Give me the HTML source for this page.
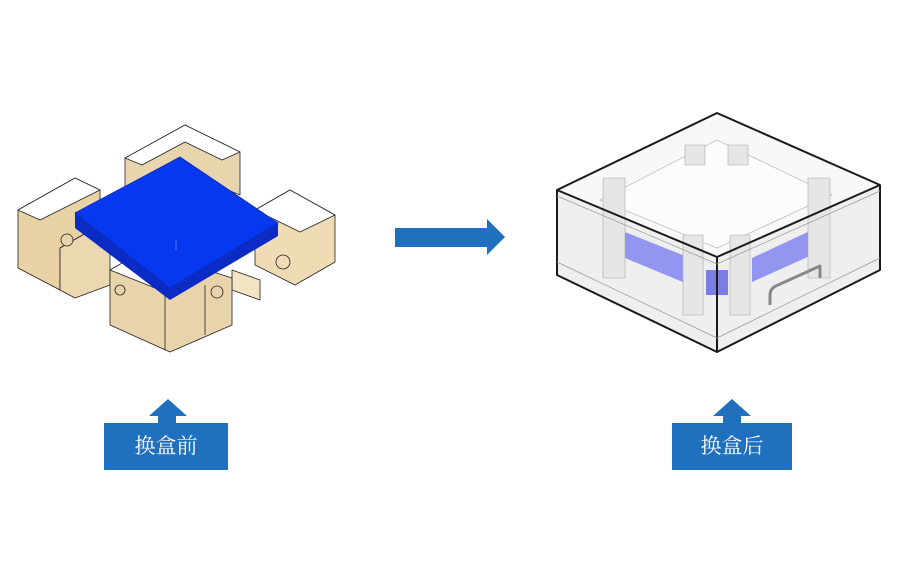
<!DOCTYPE html>
<html><head><meta charset="utf-8"><style>
html,body{margin:0;padding:0;background:#fff;}
body{width:900px;height:573px;position:relative;overflow:hidden;font-family:"Liberation Sans","Noto Sans CJK SC",sans-serif;}
.lbl{position:absolute;background:#1f70bf;color:#fff;font-size:21px;text-align:center;line-height:47px;height:47px;font-family:"Liberation Serif","Noto Serif CJK SC",serif;}
</style></head><body>
<svg width="900" height="573" style="position:absolute;left:0;top:0">
<g stroke="#222" stroke-width="0.8" stroke-linejoin="round">
<!-- top block -->
<polygon points="125,158 185,125 240,152 240,195 180,170 125,195" fill="#e8d5ae"/>
<polygon points="125,158 185,125 240,152 222,160 185,142 142,165" fill="#fff"/>
<!-- left block -->
<polygon points="18,210 75,178 100,190 100,225 60,248 60,290 18,268" fill="#e9d2a6"/>
<polygon points="18,210 75,178 100,190 40,220" fill="#fff"/>
<polygon points="60,248 100,225 110,235 110,285 75,298 60,290" fill="#ecd8b0"/>
<circle cx="67" cy="240" r="6" fill="#e8d5ae"/>
<!-- right block -->
<polygon points="255,210 290,190 335,215 335,262 295,285 255,265" fill="#f0dcb4"/>
<polygon points="255,210 290,190 335,215 300,232" fill="#fff"/>
<polygon points="232,270 260,280 260,300 232,290" fill="#f3e4c4"/>
<circle cx="283" cy="262" r="7" fill="#f0dcb4"/>
<!-- bottom block -->
<polygon points="110,270 145,250 232,278 232,325 170,352 110,325" fill="#e8d3aa"/>
<polygon points="110,270 145,250 200,275 165,292" fill="#fff"/>
<line x1="165" y1="292" x2="165" y2="350"/>
<line x1="205" y1="285" x2="205" y2="335"/>
<circle cx="120" cy="290" r="5" fill="#e8d3aa"/>
<circle cx="217" cy="292" r="6" fill="#e8d3aa"/>
</g>
<!-- blue plate -->
<polygon points="75,213 75,228 170,300 278,236 278,223 170,288" fill="#0a2bc4"/>
<polygon points="180,157 278,223 170,288 75,213" fill="#0638f0" stroke="#0a2cb8" stroke-width="0.8"/>
<line x1="176" y1="240" x2="176" y2="250" stroke="#66f" stroke-width="1"/>

<!-- arrow -->
<polygon points="395,228 487,228 487,219 505,237 487,255 487,247 395,247" fill="#1f70bf"/>
<!-- up arrows -->
<polygon points="168,399 187,416 176,416 176,424 158,424 158,416 149,416" fill="#1f70bf"/>
<polygon points="732,399 751,416 741,416 741,424 723,424 723,416 713,416" fill="#1f70bf"/>

<!-- right box -->
<g stroke-linejoin="round">
<polygon points="557,190 717,113 880,185 880,270 717,352 557,275" fill="#efefef"/>
<polygon points="557,190 717,113 880,185 717,257" fill="#f8f8f8"/>
<polygon points="600,200 717,140 832,195 717,248" fill="#fcfcfc" stroke="#aaa" stroke-width="0.6"/>
<polygon points="625,232 690,258 690,285 625,258" fill="#7b7ff0" opacity="0.8"/>
<polygon points="752,258 812,230 812,255 752,282" fill="#7b7ff0" opacity="0.8"/>
<polygon points="706,270 728,270 728,295 706,295" fill="#5d61e0" opacity="0.8"/>
<g fill="#e6e6e6" stroke="#aaa" stroke-width="0.6">
<rect x="603" y="178" width="22" height="100"/>
<rect x="808" y="178" width="22" height="100"/>
<rect x="683" y="235" width="20" height="80"/>
<rect x="730" y="235" width="20" height="80"/>
<rect x="685" y="145" width="20" height="20"/>
<rect x="728" y="145" width="20" height="20"/>
</g>
<path d="M770,305 L770,295 Q770,288 778,285 L820,266 L820,278" fill="none" stroke="#888" stroke-width="3"/>
<g fill="none" stroke="#1a1a1a" stroke-width="2">
<polygon points="557,190 717,113 880,185 880,270 717,352 557,275"/>
<polyline points="557,190 717,257 880,185"/>
<line x1="717" y1="257" x2="717" y2="352"/>
</g>
<g fill="none" stroke="#999" stroke-width="0.7">
<polyline points="557,262 717,338 880,258"/>
<polyline points="557,196 717,264 880,191"/>
</g>
</g>
</svg>
<div class="lbl" style="left:104px;top:423px;width:124px;">换盒前</div>
<div class="lbl" style="left:672px;top:423px;width:120px;">换盒后</div>
</body></html>
